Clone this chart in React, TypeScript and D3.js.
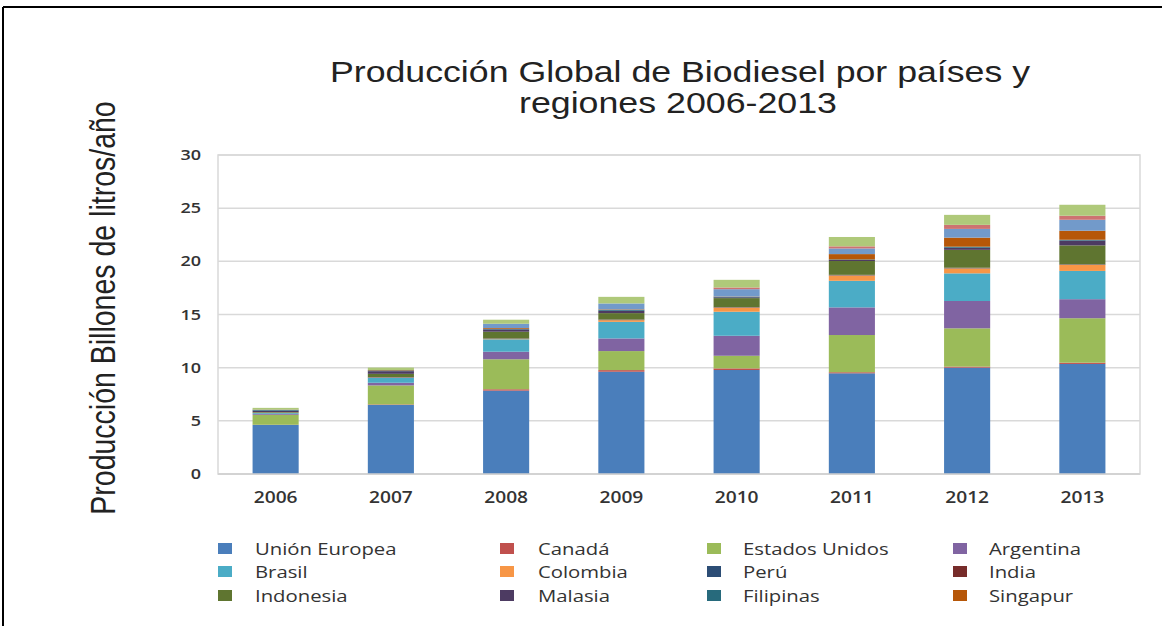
import React from "react";
import * as d3 from "d3";

const years = ["2006", "2007", "2008", "2009", "2010", "2011", "2012", "2013"];

const seriesNames = [
  "Unión Europea", "Canadá", "Estados Unidos", "Argentina", "Brasil", "Colombia",
  "Perú", "India", "Indonesia", "Malasia", "Filipinas", "Singapur",
  "Otros 1", "Otros 2", "Otros 3",
];

const legendNames = [
  "Unión Europea", "Canadá", "Estados Unidos", "Argentina",
  "Brasil", "Colombia", "Perú", "India",
  "Indonesia", "Malasia", "Filipinas", "Singapur",
];

const unionEuropea = [4.61, 6.49, 7.84, 9.62, 9.78, 9.47, 10.0, 10.35];
const canada = [0.02, 0.05, 0.13, 0.15, 0.15, 0.1, 0.1, 0.12];
const estadosUnidos = [0.94, 1.79, 2.82, 1.79, 1.19, 3.5, 3.6, 4.18];
const argentina = [0.08, 0.25, 0.71, 1.19, 1.88, 2.6, 2.57, 1.79];
const brasil = [0.08, 0.47, 1.17, 1.56, 2.26, 2.5, 2.6, 2.66];
const colombia = [0.02, 0.02, 0.03, 0.16, 0.38, 0.5, 0.47, 0.56];
const peru = [0.0, 0.02, 0.02, 0.03, 0.02, 0.03, 0.03, 0.03];
const india = [0.03, 0.03, 0.03, 0.03, 0.03, 0.03, 0.03, 0.03];
const indonesia = [0.05, 0.3, 0.63, 0.6, 0.85, 1.3, 1.68, 1.78];
const malasia = [0.13, 0.25, 0.22, 0.22, 0.08, 0.1, 0.2, 0.45];
const filipinas = [0.08, 0.07, 0.06, 0.08, 0.04, 0.05, 0.1, 0.08];
const singapur = [0.02, 0.04, 0.07, 0.05, 0.03, 0.5, 0.85, 0.85];
const otros1 = [0.0, 0.0, 0.4, 0.56, 0.69, 0.53, 0.82, 1.03];
const otros2 = [0.0, 0.0, 0.0, 0.0, 0.16, 0.2, 0.38, 0.38];
const otros3 = [0.16, 0.23, 0.38, 0.62, 0.72, 0.88, 0.94, 1.03];

const seriesValues = [
  unionEuropea, canada, estadosUnidos, argentina, brasil, colombia,
  peru, india, indonesia, malasia, filipinas, singapur, otros1, otros2, otros3,
];

const colors = [
  "#4a7ebb", "#c0504d", "#9bbb59", "#8064a2", "#4bacc6", "#f79646",
  "#2c4d75", "#772c2a", "#5f7530", "#4d3b62", "#276a7c", "#b65708",
  "#729aca", "#cd7371", "#afc97a",
];

const yTicks = [0, 5, 10, 15, 20, 25, 30];

const W = 1162;
const H = 626;
const SX = 1.2;

export default function App() {
  const rows = years.map((y, i) => {
    const r: any = { year: y };
    seriesNames.forEach((s, k) => (r[s] = seriesValues[k][i]));
    return r;
  });
  const stack = d3.stack().keys(seriesNames)(rows as any);

  const x = d3.scaleBand().domain(years).range([218, 1140]).paddingInner(0.6).paddingOuter(0.3);
  const y = d3.scaleLinear().domain([0, 30]).range([474, 155]);
  const color = d3.scaleOrdinal<string, string>().domain(seriesNames).range(colors);

  const legendColX = [218, 500, 707, 953];
  const legendTextX = [255, 538, 743, 989];
  const legendRowY = [549, 572, 596];

  return (
    <svg width={W} height={H} style={{ position: "absolute", left: 0, top: 0, background: "#fff" }}>
      <rect x={0} y={0} width={W} height={H} fill="#fff" />
      <line x1={3} y1={7} x2={W} y2={7} stroke="#000" strokeWidth={2} />
      <line x1={3} y1={7} x2={3} y2={H} stroke="#000" strokeWidth={2} />

      {/* title */}
      <g fontFamily="'Liberation Sans', Arial, sans-serif" fill="#222" textAnchor="middle">
        <text x={680} y={82} fontSize={29} textLength={700} lengthAdjust="spacingAndGlyphs">
          Producción Global de Biodiesel por países y
        </text>
        <text x={678} y={113} fontSize={29} textLength={318} lengthAdjust="spacingAndGlyphs">
          regiones 2006-2013
        </text>
      </g>

      {/* y axis title */}
      <text
        transform={`translate(115,${308}) scale(${SX},1) rotate(-90)`}
        fontFamily="'Liberation Sans', Arial, sans-serif"
        fontSize={28.5}
        textAnchor="middle"
        fill="#222"
      >
        Producción Billones de litros/año
      </text>

      {/* grid */}
      <rect x={218} y={155} width={922} height={319} fill="none" stroke="#d9d9d9" strokeWidth={1.5} />
      {yTicks.map((t) => (
        <line key={t} x1={218} x2={1140} y1={y(t)} y2={y(t)} stroke="#d9d9d9" strokeWidth={1.5} />
      ))}

      {/* bars */}
      {stack.map((layer) => (
        <g key={layer.key} fill={color(layer.key)}>
          {layer.map((d, i) => (
            <rect
              key={i}
              x={x(years[i])}
              width={x.bandwidth()}
              y={y(d[1])}
              height={Math.max(0, y(d[0]) - y(d[1]))}
            />
          ))}
        </g>
      ))}
      <line x1={218} x2={1140} y1={y(0)} y2={y(0)} stroke="#d0d0d0" strokeWidth={1.5} />

      {/* y tick labels */}
      <g fontFamily="'Open Sans', sans-serif" fontWeight={600} fontSize={15} fill="#333" textAnchor="end">
        {yTicks.map((t) => (
          <text key={t} transform={`translate(201,${y(t) + 5}) scale(${SX},1)`}>
            {t}
          </text>
        ))}
      </g>

      {/* x labels */}
      <g fontFamily="'Open Sans', sans-serif" fontWeight={600} fontSize={16} fill="#333" textAnchor="middle">
        {years.map((yr) => (
          <text key={yr} transform={`translate(${(x(yr) as number) + x.bandwidth() / 2},${503}) scale(${SX},1)`}>
            {yr}
          </text>
        ))}
      </g>

      {/* legend */}
      <g fontFamily="'Open Sans', sans-serif" fontSize={16.5} fill="#333">
        {legendNames.map((n, i) => {
          const c = i % 4;
          const r = Math.floor(i / 4);
          return (
            <g key={n}>
              <rect x={legendColX[c]} y={legendRowY[r] - 6} width={14} height={11} fill={color(n)} />
              <text transform={`translate(${legendTextX[c]},${legendRowY[r] + 6}) scale(1.23,1)`}>{n}</text>
            </g>
          );
        })}
      </g>
    </svg>
  );
}
